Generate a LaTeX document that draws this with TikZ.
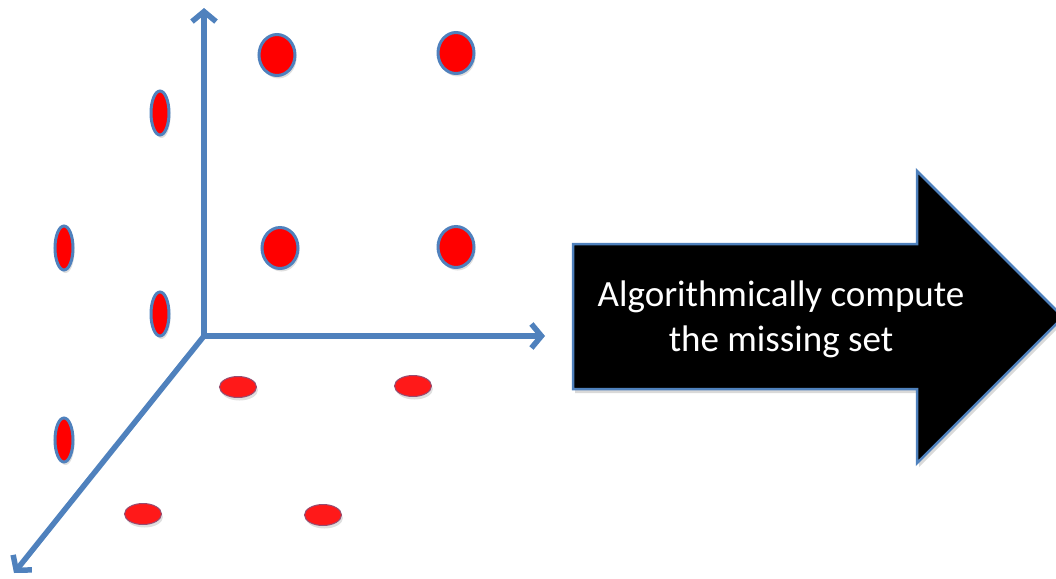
\documentclass[tikz,border=0pt]{standalone}
\usepackage{fontspec}
\setmainfont{Carlito}
\usetikzlibrary{arrows.meta,shapes.geometric,shadows}
\definecolor{axisblue}{HTML}{4F81BD}
\definecolor{dotred}{HTML}{FF0000}
\tikzset{
  axis/.style={draw=axisblue,line width=5.5pt,-{Straight Barb[length=10pt,width=24pt,line width=5.5pt]}},
  dot/.style={ellipse,draw=axisblue,fill=dotred,line width=3pt,inner sep=0pt,
     drop shadow={opacity=0.25,shadow xshift=1.5pt,shadow yshift=-3pt}},
  bigdot/.style={dot,minimum width=36pt,minimum height=41pt},
  tall/.style={dot,minimum width=18pt,minimum height=44pt},
  flat/.style={dot,line width=1pt,draw=axisblue!60!red,fill=dotred!90!white,minimum width=37pt,minimum height=21pt},
}
\begin{document}
\begin{tikzpicture}[x=1pt,y=-1pt]
\useasboundingbox (0,0) rectangle (1056,578);
\clip (0,0) rectangle (1056,578);
% axes
\coordinate (o) at (204,336);
\coordinate (ytip) at (204,8);
\coordinate (xtip) at (545,336);
\coordinate (ztip) at (14,573);
\draw[axis] (o) -- (ytip);
\draw[axis] (o) -- (xtip);
\draw[axis,shorten <=-2.7pt] (o) -- (ztip);
% dots
\node[bigdot] (a1) at (277,55) {};
\node[bigdot] (a2) at (456,53) {};
\node[bigdot] (a3) at (280,248) {};
\node[bigdot] (a4) at (456,247) {};
\node[tall] (b1) at (160,113) {};
\node[tall] (b2) at (64,248) {};
\node[tall] (b3) at (160,314) {};
\node[tall] (b4) at (64,440) {};
\node[flat] (c1) at (238,387) {};
\node[flat] (c2) at (413,386) {};
\node[flat] (c3) at (143,514) {};
\node[flat] (c4) at (323,515) {};
% big arrow
\draw[draw=axisblue,fill=black,line width=2.5pt,line join=miter,
      drop shadow={opacity=0.3,shadow xshift=2pt,shadow yshift=-4pt}]
  (573,244) -- (917,244) -- (917,171) -- (1063,317) -- (917,463) -- (917,389) -- (573,389) -- cycle;
\node[text=white,align=center,font=\fontsize{37}{45}\selectfont] (txt) at (781,319)
  {Algorithmically compute\\the missing set};
\end{tikzpicture}
\end{document}
